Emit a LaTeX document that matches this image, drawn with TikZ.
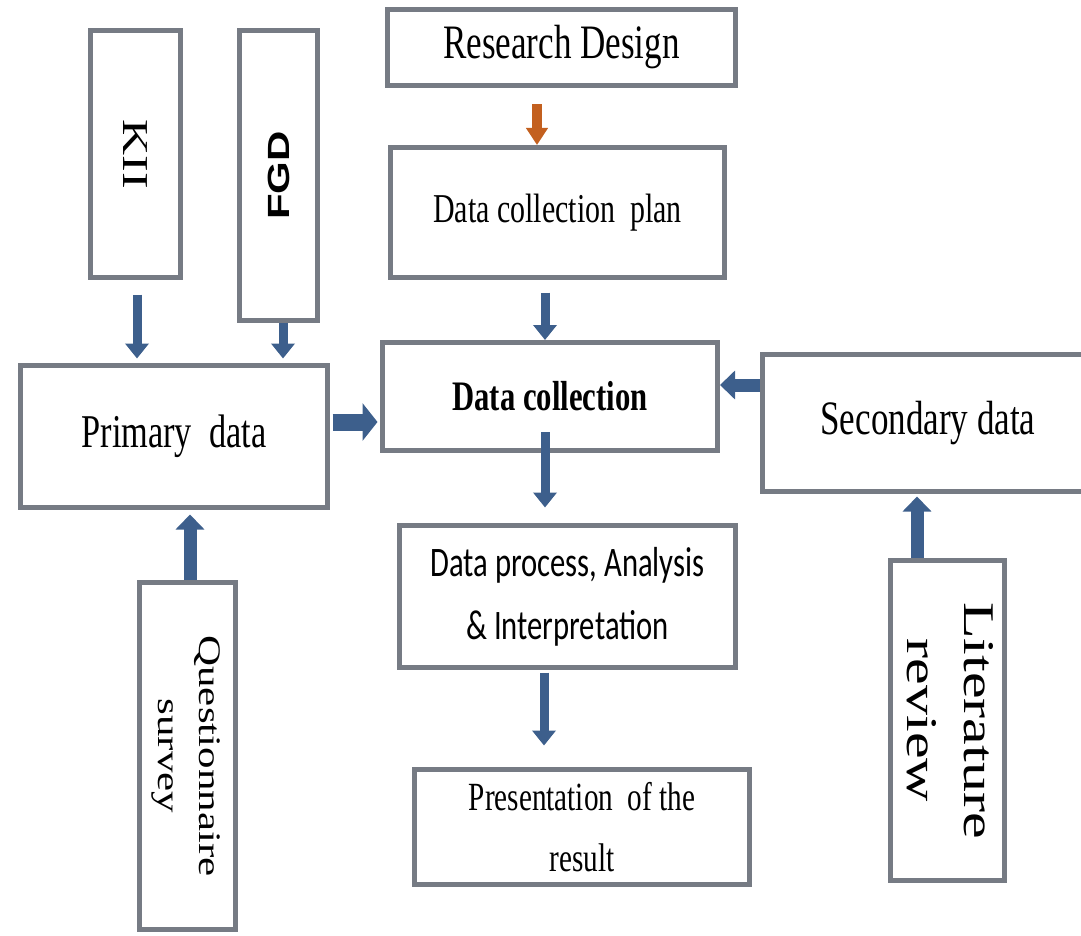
\documentclass[tikz,border=0pt]{standalone}
\usepackage{graphicx}
\usepackage{fontspec}
\setmainfont{Liberation Serif}[FakeStretch=0.73]
\newfontfamily\narrowsans{Carlito}[FakeStretch=0.73]
\newfontfamily\plainserif{Liberation Serif}
\newfontfamily\plainsans{Liberation Sans}
\usetikzlibrary{arrows.meta}
\definecolor{boxgray}{HTML}{767B84}
\definecolor{flowblue}{HTML}{3D5F8C}
\definecolor{flowbrown}{HTML}{C3601F}

% sideways label, squeezed the same way as the upright ones
\newcommand{\sidetext}[1]{\rotatebox{-90}{\scalebox{1}[0.73]{#1}}}

\begin{document}
\begin{tikzpicture}[x=1pt,y=-1pt,
  box/.style={draw=boxgray,line width=5pt,fill=white,inner sep=0pt,align=center},
  flow/.style={draw=flowblue,line width=9pt,-{Triangle[width=23pt,length=15pt]}},
  flowmid/.style={draw=flowblue,line width=13pt,-{Triangle[width=28pt,length=15pt]}},
  flowwide/.style={draw=flowblue,line width=17pt,-{Triangle[width=37pt,length=15pt]}},
  flowtop/.style={draw=flowbrown,line width=10pt,-{Triangle[width=21pt,length=17pt]}}]
\useasboundingbox (0,0) rectangle (1081,936);

% main column
\node[box,minimum width=348pt,minimum height=76pt,font=\fontsize{48}{52}\selectfont] (design) at (561.5,47.5) {Research Design};
\node[box,minimum width=334pt,minimum height=130pt,font=\fontsize{41}{46}\selectfont] (plan) at (557.5,212.5) {Data collection\ \ plan};
\node[box,minimum width=335pt,minimum height=108pt,font=\bfseries\fontsize{42}{46}\selectfont] (collect) at (550,396.5) {Data collection};
\node[box,minimum width=336pt,minimum height=142pt,font=\narrowsans\fontsize{42}{63}\selectfont] (process) at (567.5,596.5) {Data process, Analysis\\\& Interpretation};
\node[box,minimum width=335pt,minimum height=115pt,font=\fontsize{40}{61}\selectfont] (present) at (582,827) {Presentation\ \ of the\\result};

% the two sources of data
\node[box,minimum width=307pt,minimum height=142pt,font=\fontsize{47}{52}\selectfont] (primary) at (174,436.5) {Primary\ \ data};
\node[box,minimum width=331pt,minimum height=137pt,font=\fontsize{48}{52}\selectfont] (secondary) at (928,423) {Secondary data};

% tools feeding them
\node[box,minimum width=90pt,minimum height=247pt] (kii) at (135.5,154)
  {\sidetext{\plainserif\fontsize{50}{56}\selectfont KII}};
\node[box,minimum width=78pt,minimum height=290pt] (fgd) at (278.5,175.5)
  {\rotatebox{90}{\scalebox{1}[0.73]{\plainsans\bfseries\fontsize{42}{46}\selectfont FGD}}};
\node[box,minimum width=96pt,minimum height=347pt] (survey) at (187.5,756)
  {\sidetext{\plainserif\fontsize{43}{56}\selectfont\begin{tabular}{@{}c@{}}Questionnaire\\survey\end{tabular}}};
\node[box,minimum width=110pt,minimum height=320pt] (review) at (947.5,720.5)
  {\sidetext{\plainserif\fontsize{60}{78}\selectfont\begin{tabular}{@{}c@{}}Literature\\review\end{tabular}}};

% arrows
\draw[flowtop,shorten <=16.5pt] ([xshift=-24.5pt]design.south) -- ([xshift=-24.5pt]design.south |- plan.north);
\draw[flow,shorten <=12.5pt] ([xshift=-12.5pt]plan.south) -- ([xshift=-12.5pt]plan.south |- collect.north);
\draw[flow,shorten <=35.5pt,shorten >=15.5pt] ([xshift=-5pt]collect.center) -- ([xshift=-5pt]collect.center |- process.north);
\draw[flow,shorten <=2.5pt,shorten >=21.5pt] ([xshift=-23.5pt]process.south) -- ([xshift=-23.5pt]process.south |- present.north);

\draw[flow,shorten <=14.5pt,shorten >=4.5pt] ([xshift=1.5pt]kii.south) -- ([xshift=1.5pt]kii.south |- primary.north);
\draw[flow,shorten >=4.5pt] ([xshift=4.5pt]fgd.south) -- ([xshift=4.5pt]fgd.south |- primary.north);
\draw[flowmid,shorten >=4.5pt] ([xshift=2.5pt]survey.north) -- ([xshift=2.5pt]survey.north |- primary.south);
\draw[flowmid,shorten >=2.5pt] ([xshift=-30.5pt]review.north) -- ([xshift=-30.5pt]review.north |- secondary.south);

\draw[flowwide,shorten <=2.5pt,shorten >=2.5pt] ([yshift=14.5pt]primary.east) -- ([yshift=14.5pt]primary.east -| collect.west);
\draw[flowmid] ([yshift=38pt]secondary.west) -- ([yshift=38pt]secondary.west -| collect.east);
\end{tikzpicture}
\end{document}
